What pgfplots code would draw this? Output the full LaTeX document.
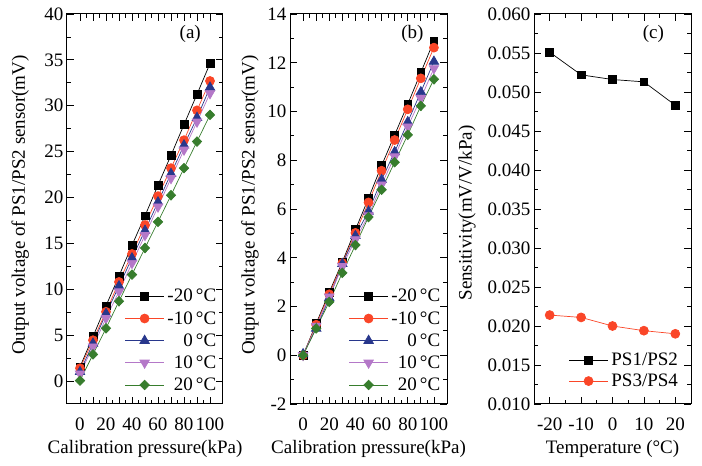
\documentclass[border=0pt]{standalone}
\usepackage{fontspec}
\setmainfont{Liberation Serif}
\usepackage{pgfplots}
\pgfplotsset{compat=1.18}

\definecolor{cred}{RGB}{250,70,40}
\definecolor{cblue}{RGB}{40,55,140}
\definecolor{cpurp}{RGB}{180,120,200}
\definecolor{cgreen}{RGB}{55,125,45}

\newcommand{\fs}{\fontsize{19}{22}\selectfont}

\pgfplotsset{
  panel/.style={
    scale only axis, width=156pt, height=390pt,
    anchor=south west,
    tick align=inside,
    major tick length=7pt, minor tick length=4pt,
    axis line style={line width=1pt},
    tick style={line width=0.8pt, black},
    tick label style={font=\fs},
    label style={font=\fs},
    xticklabel style={yshift=-10pt},
    /pgf/number format/assume math mode=true,
    legend style={draw=none, fill=none, font=\fs, row sep=4pt,
      /tikz/every odd column/.append style={column sep=1pt}},
    legend cell align=right,
    legend image code/.code={\draw[mark repeat=2,mark phase=2]
      plot coordinates {(0pt,0pt) (19.5pt,0pt) (39pt,0pt)};},
  },
  pressure/.style={
    xmin=-10, xmax=110,
    xtick={0,10,...,100}, xticklabels={0,,20,,40,,60,,80,,100},
    minor x tick num=1,
    xlabel={Calibration pressure(kPa)},
    ylabel={Output voltage of PS1/PS2 sensor(mV)},
    xlabel style={at={(axis description cs:0.5,-0.115)}, anchor=center},
  },
  sA/.style={black, line width=0.7pt, mark=square*, mark size=3.9pt, mark options={solid, fill=black}},
  sB/.style={cred, line width=0.7pt, mark=*, mark size=4.5pt, mark options={solid, fill=cred}},
  sC/.style={cblue, line width=0.7pt, mark=triangle*, mark size=5.5pt, mark options={solid, fill=cblue}},
  sD/.style={cpurp, line width=0.7pt, mark=triangle*, mark size=5.5pt, mark options={solid, fill=cpurp, rotate=180}},
  sE/.style={cgreen, line width=0.7pt, mark=diamond*, mark size=4.8pt, mark options={solid, fill=cgreen, xscale=1.3}},
}

\begin{document}
\begin{tikzpicture}
\useasboundingbox (0pt,0pt) rectangle (702pt,466pt);

% (a)
\begin{axis}[panel, pressure, at={(67pt,62pt)},
  ymin=-2.5, ymax=40, ytick={0,5,...,40}, minor y tick num=1,
  ylabel style={at={(axis description cs:-0.30,0.51)}, anchor=center},
  legend style={at={(axis description cs:0.99,0.02)}, anchor=south east},
]
\addplot[sA] coordinates {(0,1.55)(10,4.85)(20,8.2)(30,11.45)(40,14.8)(50,18.0)(60,21.35)(70,24.6)(80,27.95)(90,31.25)(100,34.6)};
\addplot[sB] coordinates {(0,1.4)(10,4.45)(20,7.55)(30,10.8)(40,13.85)(50,17.0)(60,20.15)(70,23.2)(80,26.25)(90,29.5)(100,32.7)};
\addplot[sC] coordinates {(0,1.0)(10,4.1)(20,7.35)(30,10.35)(40,13.4)(50,16.4)(60,19.5)(70,22.6)(80,25.7)(90,28.7)(100,32.0)};
\addplot[sD] coordinates {(0,0.8)(10,3.75)(20,6.85)(30,9.75)(40,12.85)(50,15.9)(60,19.0)(70,22.1)(80,25.2)(90,28.25)(100,31.35)};
\addplot[sE] coordinates {(0,0.05)(10,2.9)(20,5.75)(30,8.7)(40,11.6)(50,14.5)(60,17.35)(70,20.25)(80,23.2)(90,26.1)(100,29.0)};
\legend{-20\,°C,-10\,°C,0\,°C,10\,°C,20\,°C}
\node[font=\fs] at (rel axis cs:0.79,0.95) {(a)};
\end{axis}

% (b)
\begin{axis}[panel, pressure, at={(290pt,62pt)}, width=157pt,
  ymin=-2, ymax=14, ytick={-2,0,...,14}, minor y tick num=1,
  ylabel style={at={(axis description cs:-0.255,0.51)}, anchor=center},
  legend style={at={(axis description cs:0.99,0.02)}, anchor=south east},
]
\addplot[sA] coordinates {(0,0)(10,1.3)(20,2.58)(30,3.83)(40,5.15)(50,6.44)(60,7.78)(70,9.04)(80,10.3)(90,11.6)(100,12.9)};
\addplot[sB] coordinates {(0,0)(10,1.25)(20,2.5)(30,3.78)(40,5.02)(50,6.27)(60,7.57)(70,8.83)(80,10.09)(90,11.36)(100,12.62)};
\addplot[sC] coordinates {(0,0.05)(10,1.1)(20,2.35)(30,3.75)(40,4.9)(50,5.9)(60,7.2)(70,8.34)(80,9.57)(90,10.8)(100,12.05)};
\addplot[sD] coordinates {(0,0)(10,1.2)(20,2.4)(30,3.65)(40,4.75)(50,5.73)(60,7.0)(70,8.15)(80,9.38)(90,10.54)(100,11.77)};
\addplot[sE] coordinates {(0,0)(10,1.1)(20,2.19)(30,3.38)(40,4.52)(50,5.67)(60,6.79)(70,7.92)(80,9.04)(90,10.23)(100,11.32)};
\legend{-20\,°C,-10\,°C,0\,°C,10\,°C,20\,°C}
\node[font=\fs] at (rel axis cs:0.78,0.95) {(b)};
\end{axis}

% (c)
\begin{axis}[panel, at={(534pt,62pt)}, width=157pt,
  xmin=-25, xmax=25, xtick={-20,-10,...,20}, minor x tick num=1,
  ymin=0.010, ymax=0.060, ytick={0.010,0.015,...,0.0601}, minor y tick num=1,
  yticklabel style={/pgf/number format/.cd, fixed, fixed zerofill, precision=3},
  scaled y ticks=false,
  xlabel={Temperature (°C)},
  ylabel={Sensitivity(mV/V/kPa)},
  xlabel style={at={(axis description cs:0.5,-0.115)}, anchor=center},
  ylabel style={at={(axis description cs:-0.427,0.49)}, anchor=center},
  legend style={at={(axis description cs:0.95,0.03)}, anchor=south east, row sep=3pt},
]
\addplot[sA] coordinates {(-20,0.0551)(-10,0.0522)(0,0.0516)(10,0.0513)(20,0.0483)};
\addplot[sB] coordinates {(-20,0.0214)(-10,0.0211)(0,0.0200)(10,0.0194)(20,0.0190)};
\legend{PS1/PS2,PS3/PS4}
\node[font=\fs] at (rel axis cs:0.76,0.95) {(c)};
\end{axis}
\end{tikzpicture}
\end{document}
